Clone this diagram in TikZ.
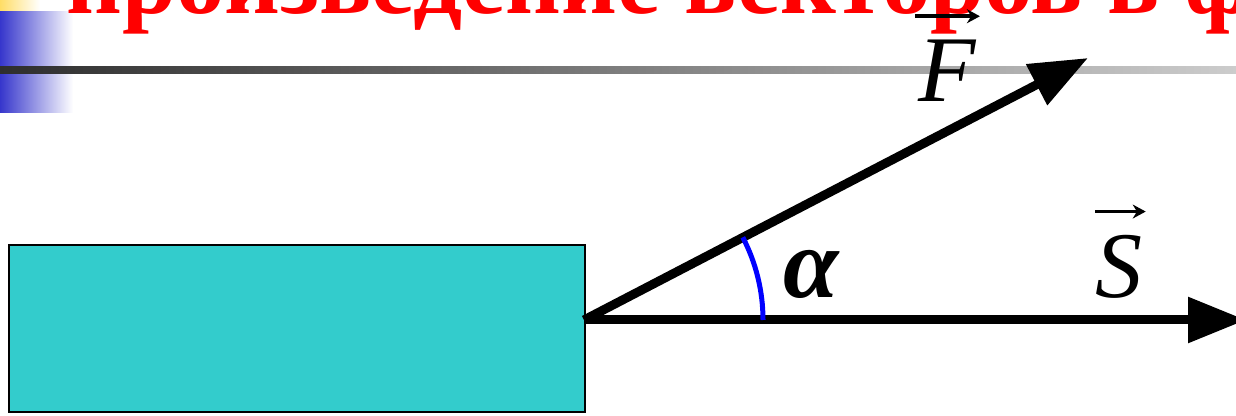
\documentclass[tikz,border=0pt]{standalone}
\usepackage{fontspec}
\setmainfont{Liberation Serif}
\usetikzlibrary{arrows.meta,positioning}
\definecolor{bodycyan}{HTML}{33CCCC}
\definecolor{decoyellow}{HTML}{FFDD66}
\definecolor{decoblue}{HTML}{3636CC}
\definecolor{ruledark}{HTML}{2E2E2E}
\definecolor{rulelight}{HTML}{CCCCCC}

\begin{document}
\begin{tikzpicture}[
    x=1pt, y=1pt,
    titletext/.style={anchor=base west, inner sep=0pt, text=red, font=\bfseries\fontsize{97}{100}\selectfont},
    bodybox/.style={draw, fill=bodycyan, line width=2pt, anchor=south west, inner sep=0pt, minimum width=576pt, minimum height=167pt},
    vecarrow/.style={-{Triangle[length=58pt, width=44pt]}, line width=9pt},
    overarrow/.style={-{Stealth[length=13pt, width=14pt]}, line width=3.5pt},
    anglearc/.style={draw=blue, line width=5pt},
    veclbl/.style={anchor=base, inner sep=0pt, font=\itshape\fontsize{94}{100}\selectfont},
    anglelbl/.style={anchor=base, inner sep=0pt, font=\bfseries\itshape\fontsize{100}{104}\selectfont}
  ]
    \useasboundingbox (0,0) rectangle (1236,415);
    \clip (0,0) rectangle (1236,415);
    % slide header
    \shade[left color=decoyellow, right color=white] (0,403) rectangle (40,415);
    \shade[left color=decoblue, right color=white] (0,302) rectangle (73,403);
    \shade[left color=ruledark, right color=rulelight] (0,341) rectangle (1236,348);
    \node[titletext] (title) at (66,401) {произведение векторов в ф};
    % body and vectors
    \node[bodybox] (body) at (8,2) {};
    \coordinate (O) at (584,95);
    \coordinate (Ftip) at (1088,357);
    \coordinate (Stip) at (1246,95);
    \draw[vecarrow] (O) -- (Ftip);
    \draw[vecarrow] (O) -- (Stip);
    \draw[anglearc] ([shift={(0:179)}]O) arc[start angle=0, end angle=27.5, radius=179];
    \node[veclbl] (Flbl) at (947,313) {F};
    \node[veclbl] (Slbl) at (1119,117) {S};
    \node[anglelbl] (alpha) at (811,117) {α};
    \draw[overarrow] ([shift={(-3pt,24pt)}]Flbl.north west) -- ([shift={(4pt,24pt)}]Flbl.north east);
    \draw[overarrow] ([shift={(0pt,24pt)}]Slbl.north west) -- ([shift={(3pt,24pt)}]Slbl.north east);
  \end{tikzpicture}
\end{document}
